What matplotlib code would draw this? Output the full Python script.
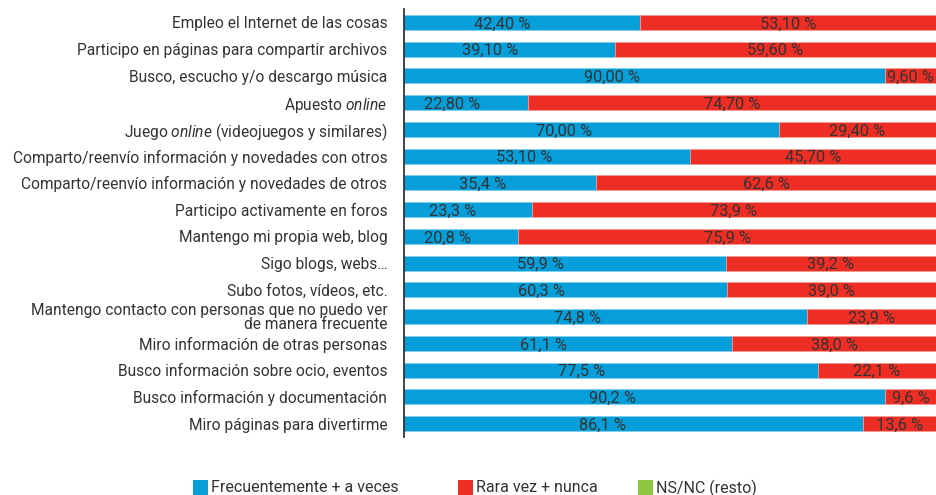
import matplotlib
matplotlib.use("Agg")
import matplotlib.pyplot as plt
from matplotlib.patches import Rectangle
from matplotlib.transforms import offset_copy
import numpy as np

plt.rcParams['font.family'] = ['Roboto', 'DejaVu Sans']
plt.rcParams['mathtext.fontset'] = 'custom'
plt.rcParams['mathtext.rm'] = 'Roboto'
plt.rcParams['mathtext.it'] = 'Roboto:italic'

categories = [
    "Empleo el Internet de las cosas",
    "Participo en páginas para compartir archivos",
    "Busco, escucho y/o descargo música",
    "Apuesto $\\mathit{online}$",
    "Juego $\\mathit{online}$ (videojuegos y similares)",
    "Comparto/reenvío información y novedades con otros",
    "Comparto/reenvío información y novedades de otros",
    "Participo activamente en foros",
    "Mantengo mi propia web, blog",
    "Sigo blogs, webs…",
    "Subo fotos, vídeos, etc.",
    "Mantengo contacto con personas que no puedo ver\nde manera frecuente",
    "Miro información de otras personas",
    "Busco información sobre ocio, eventos",
    "Busco información y documentación",
    "Miro páginas para divertirme",
]
frecuente = [42.40, 39.10, 90.00, 22.80, 70.00, 53.10, 35.4, 23.3, 20.8, 59.9, 60.3, 74.8, 61.1, 77.5, 90.2, 86.1]
rara = [53.10, 59.60, 9.60, 74.70, 29.40, 45.70, 62.6, 73.9, 75.9, 39.2, 39.0, 23.9, 38.0, 22.1, 9.6, 13.6]
frec_labels = ["42,40 %", "39,10 %", "90,00 %", "22,80 %", "70,00 %", "53,10 %", "35,4 %", "23,3 %",
               "20,8 %", "59,9 %", "60,3 %", "74,8 %", "61,1 %", "77,5 %", "90,2 %", "86,1 %"]
rara_labels = ["53,10 %", "59,60 %", "9,60 %", "74,70 %", "29,40 %", "45,70 %", "62,6 %", "73,9 %",
               "75,9 %", "39,2 %", "39,0 %", "23,9 %", "38,0 %", "22,1 %", "9,6 %", "13,6 %"]
legend_labels = ["Frecuentemente + a veces", "Rara vez + nunca", "NS/NC (resto)"]

BLUE = "#079FDA"
RED = "#EE2E24"
GREEN = "#8DC63F"
TXT = "#333333"

f = np.array(frecuente)
r = np.array(rara)
tot = f + r
fw = f / tot * 100
rw = r / tot * 100

W, H = 936, 495
fig = plt.figure(figsize=(W / 100, H / 100), dpi=100)
ax = fig.add_axes([404 / W, 1 - 437 / H, 1 - 404 / W, 428 / H])
y = np.arange(len(categories))
h = 0.56
ax.barh(y, fw, height=h, color=BLUE, edgecolor="#7fcdf0", linewidth=0.6)
ax.barh(y, rw, left=fw, height=h, color=RED, edgecolor="#f59a94", linewidth=0.6)

blue_tr = offset_copy(ax.transData, fig=fig, x=-6, y=0, units="points")
for i in range(len(categories)):
    ax.text(fw[i] * 0.45, y[i] + 0.06, frec_labels[i], ha="center", va="center",
            fontsize=11.8, color=TXT, transform=blue_tr)
    ax.text(fw[i] + rw[i] / 2, y[i] + 0.06, rara_labels[i], ha="center", va="center",
            fontsize=11.8, color=TXT)

ax.set_xlim(0, 100)
ax.set_ylim(len(categories) - 0.5, -0.5)
ax.set_yticks(y)
ax.set_yticklabels(categories, fontsize=11.2, color=TXT, linespacing=0.92)
ax.tick_params(axis="y", length=0, pad=12)
ax.tick_params(axis="x", bottom=False, labelbottom=False)
for s in ["top", "right", "bottom"]:
    ax.spines[s].set_visible(False)
ax.spines["left"].set_color("#222222")
ax.spines["left"].set_linewidth(1.2)

# legend, placed item by item
leg_colors = [BLUE, RED, GREEN]
leg_x = [193, 458, 638]
for c, x0, lab in zip(leg_colors, leg_x, legend_labels):
    fig.add_artist(Rectangle((x0 / W, 1 - 495 / H), 15 / W, 15 / H, transform=fig.transFigure,
                             facecolor=c, edgecolor="none"))
    fig.text((x0 + 18) / W, 1 - 488 / H, lab, ha="left", va="center", fontsize=11.5, color=TXT)

fig.savefig("out.png", dpi=100)
